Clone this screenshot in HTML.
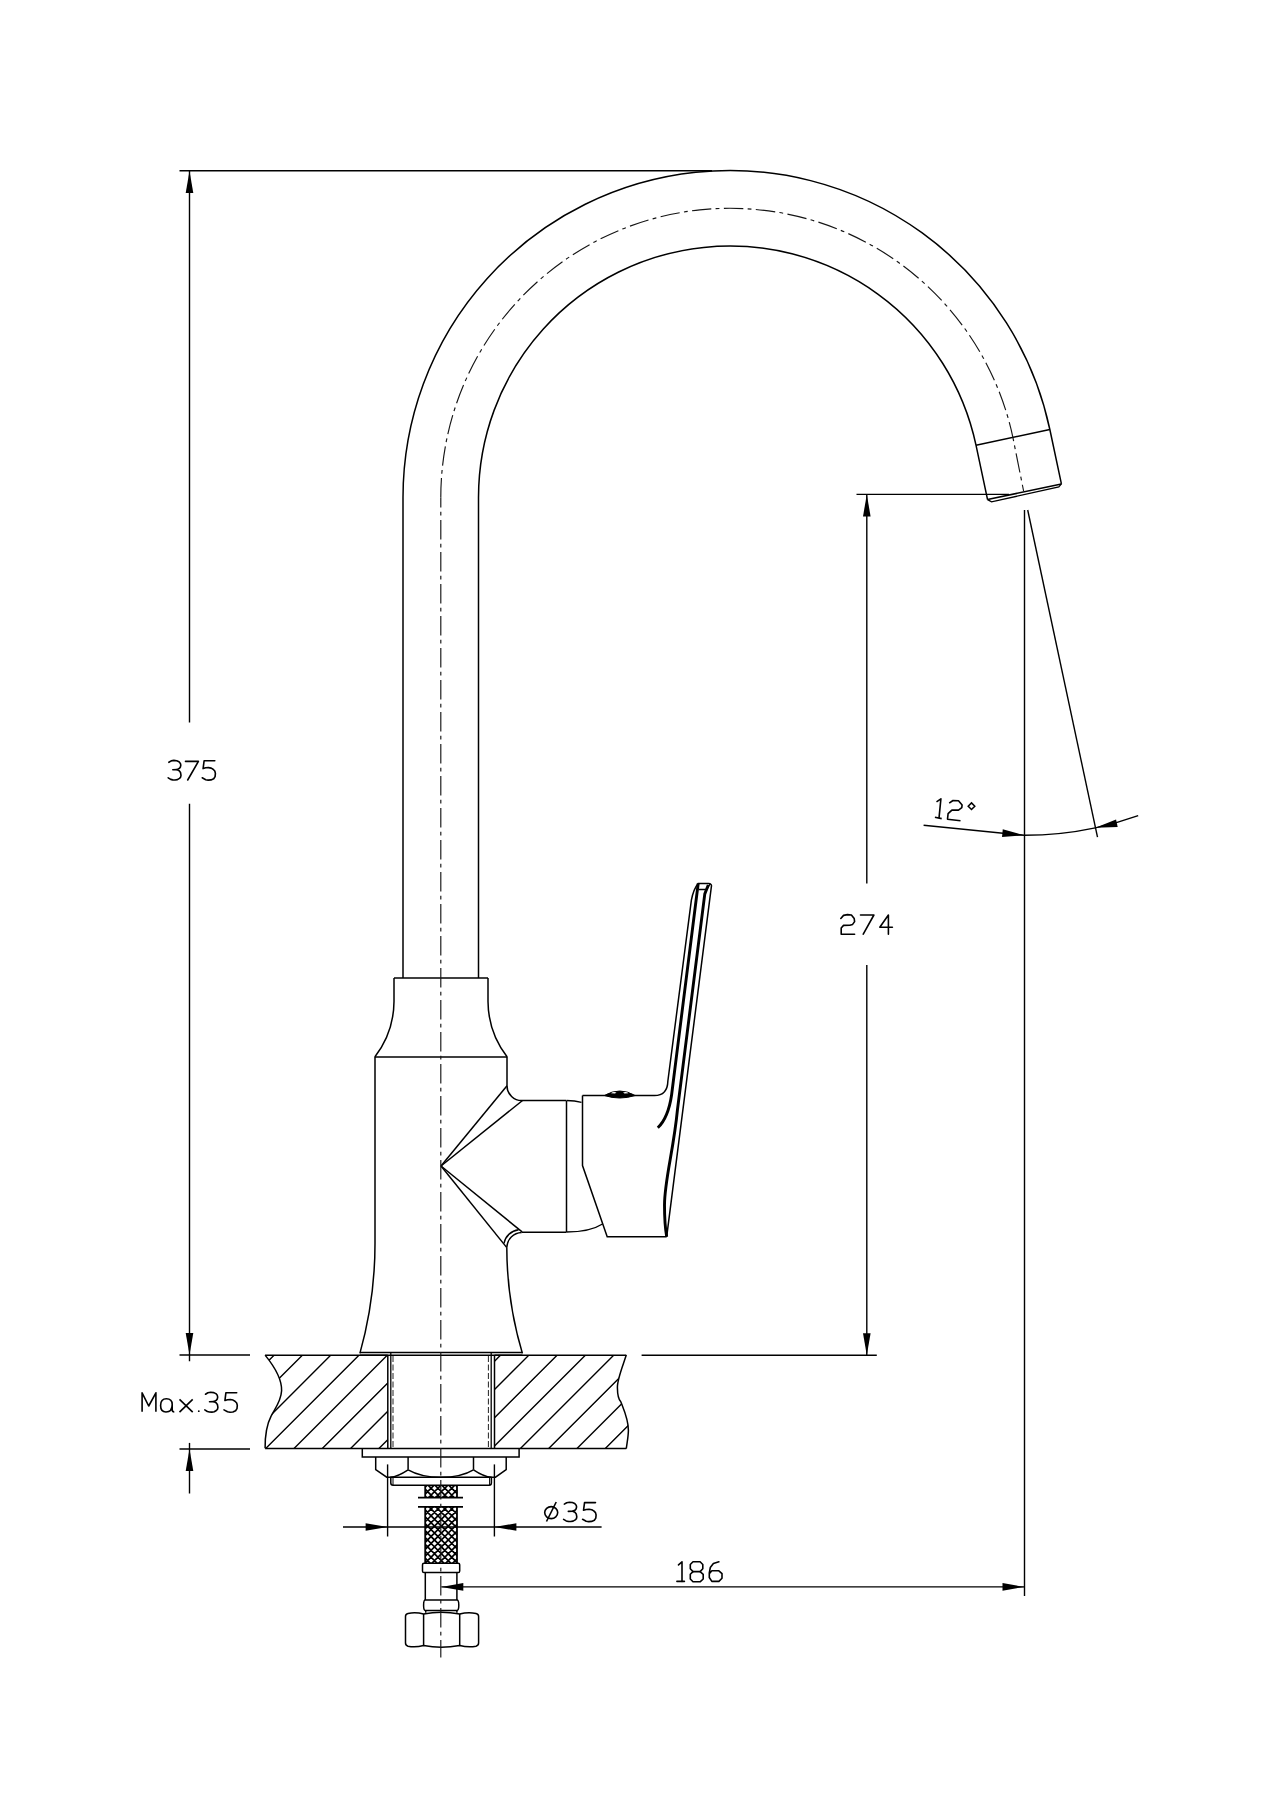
<!DOCTYPE html><html><head><meta charset="utf-8"><style>html,body{margin:0;padding:0;background:#fff;width:1272px;height:1800px;overflow:hidden}svg{display:block}</style></head><body><svg width="1272" height="1800" viewBox="0 0 1272 1800"><rect width="1272" height="1800" fill="#fff"/><g fill="none" stroke="#000" stroke-linecap="butt"><line x1="179.5" y1="170.7" x2="712" y2="170.7" stroke-width="1.4" />
<line x1="189.5" y1="171" x2="189.5" y2="722.4" stroke-width="1.4" />
<line x1="189.5" y1="803.7" x2="189.5" y2="1361.3" stroke-width="1.4" />
<polygon points="189.5,171 193.3,193 185.7,193" fill="#000" stroke="none"/>
<polygon points="189.5,1355 185.7,1333 193.3,1333" fill="#000" stroke="none"/>
<line x1="179.5" y1="1355" x2="250" y2="1355" stroke-width="1.4" />
<line x1="179.5" y1="1449" x2="250" y2="1449" stroke-width="1.4" />
<line x1="189.5" y1="1442.9" x2="189.5" y2="1493.5" stroke-width="1.4" />
<polygon points="189.5,1449 193.3,1471 185.7,1471" fill="#000" stroke="none"/>
<line x1="856.5" y1="494.4" x2="1009" y2="494.4" stroke-width="1.4" />
<line x1="866.8" y1="494.4" x2="866.8" y2="883.5" stroke-width="1.4" />
<line x1="866.8" y1="964.9" x2="866.8" y2="1355.2" stroke-width="1.4" />
<polygon points="866.8,494.4 870.6,516.4 863,516.4" fill="#000" stroke="none"/>
<polygon points="866.8,1355.2 863,1333.2 870.6,1333.2" fill="#000" stroke="none"/>
<line x1="641.6" y1="1355.2" x2="876.8" y2="1355.2" stroke-width="1.4" />
<line x1="1024.5" y1="510" x2="1024.5" y2="1596" stroke-width="1.4" />
<line x1="1027.7" y1="510" x2="1097.5" y2="837.2" stroke-width="1.4" />
<path d="M1024.3,835.3 A341.8,341.8 0 0 0 1095.36,827.83 A341.8,341.8 0 0 0 1138.2,815.6" stroke-width="1.4" />
<line x1="923.6" y1="825.3" x2="1024.3" y2="835.3" stroke-width="1.4" />
<polygon points="1024.3,835.3 1002.03,836.91 1002.78,829.34" fill="#000" stroke="none"/>
<polygon points="1095.36,827.83 1116.09,819.54 1117.67,826.97" fill="#000" stroke="none"/>
<line x1="441.3" y1="1586.9" x2="1024.5" y2="1586.9" stroke-width="1.4" />
<polygon points="441.3,1586.9 463.3,1583.1 463.3,1590.7" fill="#000" stroke="none"/>
<polygon points="1024.5,1586.9 1002.5,1590.7 1002.5,1583.1" fill="#000" stroke="none"/>
<line x1="387.6" y1="1464.4" x2="387.6" y2="1536.5" stroke-width="1.4" />
<line x1="494.4" y1="1464.4" x2="494.4" y2="1536.5" stroke-width="1.4" />
<line x1="343" y1="1527" x2="601.6" y2="1527" stroke-width="1.4" />
<polygon points="387.6,1527 365.6,1530.8 365.6,1523.2" fill="#000" stroke="none"/>
<polygon points="494.4,1527 516.4,1523.2 516.4,1530.8" fill="#000" stroke="none"/>
<path d="M403,978 V497.5 A327,327 0 0 1 1049.85,429.51 L1061.41,483.9" stroke-width="1.5" />
<path d="M478.5,978 V497.5 A251.5,251.5 0 0 1 976,445.21 L987.56,499.6" stroke-width="1.5" />
<line x1="976" y1="445.21" x2="1049.85" y2="429.51" stroke-width="1.5" />
<line x1="987.56" y1="499.6" x2="1061.41" y2="483.9" stroke-width="1.5" />
<polyline points="987.56,499.6 991.56,501.8 1058.81,487 1061.41,483.9" stroke-width="1.3" />
<path d="M394,978 H488" stroke-width="1.5" />
<path d="M394,978 V1001.5 A92,92 0 0 1 374.8,1057" stroke-width="1.5" />
<path d="M488,978 V1001.5 A92,92 0 0 0 507.2,1057" stroke-width="1.5" />
<path d="M374.8,1057 H507.2" stroke-width="1.5" />
<path d="M375,1057 V1243.3 A408,408 0 0 1 359.9,1353.4" stroke-width="1.5" />
<path d="M507,1057 V1085.7 A14.8,14.8 0 0 0 522.5,1100.5 H566" stroke-width="1.5" />
<path d="M506.8,1247.6 A372,372 0 0 0 522.4,1353.4" stroke-width="1.5" />
<path d="M359.9,1352.6 H522.4" stroke-width="1.5" />
<line x1="566.5" y1="1100.5" x2="566.5" y2="1232" stroke-width="1.5" />
<path d="M522,1232.3 H566.5" stroke-width="1.5" />
<path d="M566.5,1100.5 Q575,1100.6 581.5,1102.4" stroke-width="1.4" />
<path d="M566.5,1232 Q590,1232 602.5,1224" stroke-width="1.4" />
<line x1="441" y1="1166" x2="507" y2="1085.7" stroke-width="1.5" />
<line x1="441" y1="1166" x2="522.5" y2="1100.5" stroke-width="1.5" />
<line x1="441" y1="1166" x2="522.1" y2="1231.9" stroke-width="1.5" />
<line x1="441" y1="1166" x2="506.8" y2="1247.6" stroke-width="1.5" />
<path d="M504,1243.3 A17,17 0 0 1 518.6,1229.7" stroke-width="1.4" />
<path d="M506.8,1247.6 A15.5,15.5 0 0 1 521.7,1232.5" stroke-width="1.4" />
<path d="M582.5,1095.6 V1165.6 L607.2,1236.7 H666.7" stroke-width="1.5" />
<path d="M582.5,1095.6 H654.4 Q667.5,1095.6 667.87,1081 L691.37,900.2 Q693.5,889 698.2,883.5 H708.5 Q712,883.8 711.4,886.5 L666.7,1236.7" stroke-width="1.5" />
<path d="M698.2,883.5 L671.58,1095 C669.66,1108 666,1120 657.8,1127.8" stroke-width="2.9" />
<path d="M708.3,885 L704.8,893.9 L677.42,1110 C673.64,1150 664.5,1180 664.5,1205 C664.5,1220 665.5,1230 666.7,1236.7" stroke-width="2.9" />
<path d="M698.9,889.5 H706.7 L710,884" stroke-width="1.4" />
<path d="M604.4,1095.5 Q619.7,1086.5 635.1,1095.5 Q619.7,1100.5 604.4,1095.5 Z" fill="#000" stroke="#000" stroke-width="1"/>
<path d="M611,1093.2 Q613.5,1091.4 616.5,1092.6 L615,1093.6 Z" fill="#fff" stroke="none"/>
<path d="M623,1092.6 Q626,1091.4 628.5,1093.2 L624.5,1093.6 Z" fill="#fff" stroke="none"/>
<path d="M265.1,1355.2 H387.8" stroke-width="1.5" />
<path d="M494.5,1355.2 H626.3" stroke-width="1.5" />
<path d="M359.9,1355.2 H522.4" stroke-width="1.5" />
<path d="M265.1,1448.6 H626.3" stroke-width="1.5" />
<path d="M265.1,1355.1 C274,1366 282,1380 281.6,1390.8 C281,1402 274,1410 271.2,1415.9 C267,1424 265,1436 265.1,1448.3" stroke-width="1.5" />
<path d="M626.3,1355.1 C622,1368 617,1380 617.4,1387.8 C617.5,1396 619,1400 620.8,1401.8 C624,1410 628.6,1420 628.4,1430.6 C628.3,1437 627,1443 626.3,1448.6" stroke-width="1.5" />
<clipPath id="cl"><path d="M265.1,1355.1 C274,1366 282,1380 281.6,1390.8 C281,1402 274,1410 271.2,1415.9 C267,1424 265,1436 265.1,1448.3 L387.8,1448.6 L387.8,1355.1 Z"/></clipPath>
<clipPath id="cr"><path d="M626.3,1355.1 C622,1368 617,1380 617.4,1387.8 C617.5,1396 619,1400 620.8,1401.8 C624,1410 628.6,1420 628.4,1430.6 C628.3,1437 627,1443 626.3,1448.6 L494.5,1448.6 L494.5,1355.1 Z"/></clipPath>
<path clip-path="url(#cl)" d="M84.4,1460 L204.4,1340 M112.7,1460 L232.7,1340 M141,1460 L261,1340 M169.3,1460 L289.3,1340 M197.6,1460 L317.6,1340 M225.9,1460 L345.9,1340 M254.2,1460 L374.2,1340 M282.5,1460 L402.5,1340 M310.8,1460 L430.8,1340 M339.1,1460 L459.1,1340 M367.4,1460 L487.4,1340 M395.7,1460 L515.7,1340 M424,1460 L544,1340 M452.3,1460 L572.3,1340 M480.6,1460 L600.6,1340 M508.9,1460 L628.9,1340 M537.2,1460 L657.2,1340 M565.5,1460 L685.5,1340 M593.8,1460 L713.8,1340 M622.1,1460 L742.1,1340 M650.4,1460 L770.4,1340 M678.7,1460 L798.7,1340" stroke-width="1.4"/>
<path clip-path="url(#cr)" d="M84.4,1460 L204.4,1340 M112.7,1460 L232.7,1340 M141,1460 L261,1340 M169.3,1460 L289.3,1340 M197.6,1460 L317.6,1340 M225.9,1460 L345.9,1340 M254.2,1460 L374.2,1340 M282.5,1460 L402.5,1340 M310.8,1460 L430.8,1340 M339.1,1460 L459.1,1340 M367.4,1460 L487.4,1340 M395.7,1460 L515.7,1340 M424,1460 L544,1340 M452.3,1460 L572.3,1340 M480.6,1460 L600.6,1340 M508.9,1460 L628.9,1340 M537.2,1460 L657.2,1340 M565.5,1460 L685.5,1340 M593.8,1460 L713.8,1340 M622.1,1460 L742.1,1340 M650.4,1460 L770.4,1340 M678.7,1460 L798.7,1340" stroke-width="1.4"/>
<line x1="387.8" y1="1355.2" x2="387.8" y2="1448.6" stroke-width="1.5" />
<line x1="494.5" y1="1355.2" x2="494.5" y2="1448.6" stroke-width="1.5" />
<line x1="390.8" y1="1352.6" x2="390.8" y2="1449" stroke-width="1.3" />
<line x1="491.2" y1="1352.6" x2="491.2" y2="1449" stroke-width="1.3" />
<line x1="393" y1="1356" x2="393" y2="1449" stroke-width="1" stroke-dasharray="6 2.5" stroke="#222"/>
<line x1="488.4" y1="1356" x2="488.4" y2="1449" stroke-width="1" stroke-dasharray="6 2.5" stroke="#222"/>
<path d="M362.3,1449 V1457 H519.1 V1449" stroke-width="1.5" />
<path d="M375.7,1457 V1469.5 L386.7,1477.2 H495.5 L506.2,1469.5 V1457" stroke-width="1.5" />
<line x1="408.1" y1="1457" x2="408.1" y2="1469.8" stroke-width="1.5" />
<line x1="473.5" y1="1457" x2="473.5" y2="1469.8" stroke-width="1.5" />
<path d="M408.1,1469.8 C418,1475.5 428,1477.2 441,1477.3 C454,1477.2 464,1475.5 473.5,1469.8" stroke-width="1.4" />
<path d="M408.1,1469.8 C401,1474.5 396,1476.8 390.2,1477.3" stroke-width="1.4" />
<path d="M473.5,1469.8 C480.5,1474.5 485.5,1476.8 491.7,1477.3" stroke-width="1.4" />
<path d="M390.8,1477 V1483 Q390.8,1485.2 393,1485.2 H489.2 Q491.4,1485.2 491.4,1483 V1477" stroke-width="1.5" />
<line x1="393" y1="1477" x2="393" y2="1485" stroke-width="1" />
<line x1="489.6" y1="1477" x2="489.6" y2="1485" stroke-width="1" />
<clipPath id="cb"><rect x="425.2" y="1485.2" width="31.8" height="12.5"/><rect x="425.2" y="1506.8" width="31.8" height="56.4"/></clipPath>
<path clip-path="url(#cb)" d="M291.75,1480 L381.75,1570 M308.15,1480 L218.15,1570 M298.65,1480 L388.65,1570 M315.05,1480 L225.05,1570 M305.55,1480 L395.55,1570 M321.95,1480 L231.95,1570 M312.45,1480 L402.45,1570 M328.85,1480 L238.85,1570 M319.35,1480 L409.35,1570 M335.75,1480 L245.75,1570 M326.25,1480 L416.25,1570 M342.65,1480 L252.65,1570 M333.15,1480 L423.15,1570 M349.55,1480 L259.55,1570 M340.05,1480 L430.05,1570 M356.45,1480 L266.45,1570 M346.95,1480 L436.95,1570 M363.35,1480 L273.35,1570 M353.85,1480 L443.85,1570 M370.25,1480 L280.25,1570 M360.75,1480 L450.75,1570 M377.15,1480 L287.15,1570 M367.65,1480 L457.65,1570 M384.05,1480 L294.05,1570 M374.55,1480 L464.55,1570 M390.95,1480 L300.95,1570 M381.45,1480 L471.45,1570 M397.85,1480 L307.85,1570 M388.35,1480 L478.35,1570 M404.75,1480 L314.75,1570 M395.25,1480 L485.25,1570 M411.65,1480 L321.65,1570 M402.15,1480 L492.15,1570 M418.55,1480 L328.55,1570 M409.05,1480 L499.05,1570 M425.45,1480 L335.45,1570 M415.95,1480 L505.95,1570 M432.35,1480 L342.35,1570 M422.85,1480 L512.85,1570 M439.25,1480 L349.25,1570 M429.75,1480 L519.75,1570 M446.15,1480 L356.15,1570 M436.65,1480 L526.65,1570 M453.05,1480 L363.05,1570 M443.55,1480 L533.55,1570 M459.95,1480 L369.95,1570 M450.45,1480 L540.45,1570 M466.85,1480 L376.85,1570 M457.35,1480 L547.35,1570 M473.75,1480 L383.75,1570 M464.25,1480 L554.25,1570 M480.65,1480 L390.65,1570 M471.15,1480 L561.15,1570 M487.55,1480 L397.55,1570 M478.05,1480 L568.05,1570 M494.45,1480 L404.45,1570 M484.95,1480 L574.95,1570 M501.35,1480 L411.35,1570 M491.85,1480 L581.85,1570 M508.25,1480 L418.25,1570 M498.75,1480 L588.75,1570 M515.15,1480 L425.15,1570 M505.65,1480 L595.65,1570 M522.05,1480 L432.05,1570 M512.55,1480 L602.55,1570 M528.95,1480 L438.95,1570 M519.45,1480 L609.45,1570 M535.85,1480 L445.85,1570 M526.35,1480 L616.35,1570 M542.75,1480 L452.75,1570 M533.25,1480 L623.25,1570 M549.65,1480 L459.65,1570 M540.15,1480 L630.15,1570 M556.55,1480 L466.55,1570 M547.05,1480 L637.05,1570 M563.45,1480 L473.45,1570 M553.95,1480 L643.95,1570 M570.35,1480 L480.35,1570 M560.85,1480 L650.85,1570 M577.25,1480 L487.25,1570" stroke-width="1.7"/>
<line x1="425.2" y1="1485.2" x2="425.2" y2="1497.7" stroke-width="1.8" />
<line x1="457" y1="1485.2" x2="457" y2="1497.7" stroke-width="1.8" />
<line x1="425.2" y1="1506.8" x2="425.2" y2="1563.2" stroke-width="1.8" />
<line x1="457" y1="1506.8" x2="457" y2="1563.2" stroke-width="1.8" />
<line x1="418" y1="1497.7" x2="463" y2="1497.7" stroke-width="1.8" />
<line x1="418" y1="1506.8" x2="463" y2="1506.8" stroke-width="1.8" />
<path d="M424,1563.2 H458.2 Q459.7,1563.2 459.7,1564.7 V1571 Q459.7,1572.6 458.2,1572.6 H424 Q422.5,1572.6 422.5,1571 V1564.7 Q422.5,1563.2 424,1563.2 Z" stroke-width="1.5" />
<path d="M425.3,1572.6 V1600 M456.9,1572.6 V1600" stroke-width="1.5" />
<path d="M425.3,1600 H456.9 Q458.8,1600 458.8,1605.2 Q458.8,1610.4 456.9,1610.4 H425.3 Q423.6,1610.4 423.6,1605.2 Q423.6,1600 425.3,1600 Z" stroke-width="1.5" />
<path d="M425.7,1610.4 V1612.7 M456.9,1610.4 V1612.7" stroke-width="1.5" />
<path d="M408,1613.5 Q415.5,1612 423.6,1614 Q441,1610.5 459.7,1614 Q468,1612 476,1613.5 Q478.6,1614 478.6,1616.5 V1643 Q478.6,1645.5 476,1646.2 Q468,1647.5 459.7,1645.5 Q441,1649 423.6,1645.5 Q415.5,1647.5 408,1646.2 Q405.5,1645.5 405.5,1643 V1616.5 Q405.5,1614 408,1613.5 Z" stroke-width="1.5" />
<line x1="423.6" y1="1614" x2="423.6" y2="1645.5" stroke-width="1.5" />
<line x1="459.7" y1="1614" x2="459.7" y2="1645.5" stroke-width="1.5" />
<line x1="440.8" y1="497.5" x2="440.8" y2="1657.5" stroke-width="1.15" stroke-dasharray="19.5 4.3 3.8 4.4" stroke="#151515" stroke-dashoffset="9.5"/>
<path d="M440.8,497.5 A289.2,289.2 0 0 1 1012.88,437.37 L1023.6,491" stroke-width="1.15" stroke-dasharray="19.5 4.3 3.8 4.4" stroke="#151515" fill="none"/>
<polyline points="840.8,918.5 843.55,915.4 847.5,914.6 851.4,915 854.2,918.5 854.6,921.6 852.6,924.4 849.8,925.2 843.55,925.4 841.2,928 841.2,934.2 854.6,934.2" stroke-width="1.6" stroke-linejoin="round" stroke-linecap="round"/>
<polyline points="860.5,915 873.9,915 863.25,934.2" stroke-width="1.6" stroke-linejoin="round" stroke-linecap="round"/>
<polyline points="888.4,934.2 888.4,915 879.8,927.2 892.4,927.2" stroke-width="1.6" stroke-linejoin="round" stroke-linecap="round"/>
<polyline points="678.5,1564.9 682,1561.8 682,1581.4" stroke-width="1.6" stroke-linejoin="round" stroke-linecap="round"/>
<polyline points="676.9,1581.4 684.4,1581.4" stroke-width="1.6" stroke-linejoin="round" stroke-linecap="round"/>
<polyline points="693,1561.8 700.1,1561.8 702.8,1564.5 702.8,1568.8 700.1,1571.6 693,1571.6 690.3,1568.8 690.3,1564.5 693,1561.8" stroke-width="1.6" stroke-linejoin="round" stroke-linecap="round"/>
<polyline points="693,1571.6 690.3,1574.3 690.3,1579 693,1581.8 700.1,1581.8 703.2,1579 703.2,1574.3 700.1,1571.6" stroke-width="1.6" stroke-linejoin="round" stroke-linecap="round"/>
<polyline points="718.9,1561.8 713.4,1563.4 710.3,1567.6 709.3,1572.8 709.3,1577.5 711.85,1581.4 718.9,1581.4 722,1578.3 722,1573.6 718.9,1570.8 711.85,1570.8 709.3,1573.6" stroke-width="1.6" stroke-linejoin="round" stroke-linecap="round"/>
<polyline points="168.9,762.3 171.2,760.9 173.9,760.4 176.7,760.7 179,761.7 180.4,763.4 180.8,765.2 180.4,767 179.5,768.3 177,769.6 172.8,769.7" stroke-width="1.6" stroke-linejoin="round" stroke-linecap="round"/>
<polyline points="177,769.6 179.2,770.7 180.5,772.4 181,775.3 180.6,777.2 179.5,778.4 177.4,779.6 175.1,780 172.7,779.9 170.7,779.4 168.2,777.8" stroke-width="1.6" stroke-linejoin="round" stroke-linecap="round"/>
<polyline points="185.5,761.4 198.4,761.4 187.7,780" stroke-width="1.6" stroke-linejoin="round" stroke-linecap="round"/>
<polyline points="214.8,760.8 204.1,760.8 203.1,768.6 205.7,767.8 208.5,767.6 211.2,768.1 213.1,769.2 214.8,771 215.4,773.4 215.1,776.6 213.7,778.7 211,779.9 208.2,780.1 205.7,779.7 202.2,777.8" stroke-width="1.6" stroke-linejoin="round" stroke-linecap="round"/>
<polyline points="564.32,1504.07 566.69,1502.69 569.48,1502.2 572.36,1502.5 574.73,1503.48 576.18,1505.15 576.59,1506.93 576.18,1508.7 575.25,1509.98 572.67,1511.26 568.34,1511.36" stroke-width="1.6" stroke-linejoin="round" stroke-linecap="round"/>
<polyline points="572.67,1511.26 574.94,1512.34 576.28,1514.02 576.8,1516.87 576.38,1518.74 575.25,1519.92 573.09,1521.11 570.71,1521.5 568.24,1521.4 566.18,1520.91 563.6,1519.33" stroke-width="1.6" stroke-linejoin="round" stroke-linecap="round"/>
<polyline points="595.49,1502.59 584.54,1502.59 583.52,1510.27 586.18,1509.49 589.04,1509.29 591.8,1509.78 593.75,1510.87 595.49,1512.64 596.1,1515 595.79,1518.15 594.36,1520.22 591.6,1521.4 588.74,1521.6 586.18,1521.2 582.6,1519.33" stroke-width="1.6" stroke-linejoin="round" stroke-linecap="round"/>
<ellipse cx="551.2" cy="1512.6" rx="6.5" ry="6.0" stroke-width="1.6"/>
<line x1="546.5" y1="1521.5" x2="556.2" y2="1502" stroke-width="1.6" />
<polyline points="142.1,1411.8 142.1,1392.8 148.7,1406 155.9,1392.8 155.9,1411.8" stroke-width="1.6" stroke-linejoin="round"/>
<path d="M172.2,1404.5 Q172.2,1398.8 166.4,1398.8 Q160.6,1398.8 160.6,1405.5 Q160.6,1412 166,1412 Q172.2,1412 172.2,1404.5 V1409.5 Q172.2,1412 174.3,1412" stroke-width="1.6"/>
<line x1="179.5" y1="1399.4" x2="192.7" y2="1412.1" stroke-width="1.6" />
<line x1="192.7" y1="1399.4" x2="179.5" y2="1412.1" stroke-width="1.6" />
<circle cx="198.8" cy="1411.2" r="0.9" fill="#000" stroke="none"/>
<polyline points="205.52,1394.22 207.87,1392.81 210.63,1392.3 213.5,1392.6 215.85,1393.61 217.28,1395.33 217.69,1397.15 217.28,1398.97 216.36,1400.28 213.8,1401.59 209.51,1401.69" stroke-width="1.6" stroke-linejoin="round" stroke-linecap="round"/>
<polyline points="213.8,1401.59 216.06,1402.71 217.39,1404.42 217.9,1407.35 217.49,1409.27 216.36,1410.48 214.21,1411.7 211.86,1412.1 209.4,1412 207.36,1411.49 204.8,1409.88" stroke-width="1.6" stroke-linejoin="round" stroke-linecap="round"/>
<polyline points="236.7,1392.7 225.91,1392.7 224.91,1400.58 227.53,1399.78 230.35,1399.57 233.07,1400.08 234.98,1401.19 236.7,1403.01 237.3,1405.43 237,1408.67 235.59,1410.79 232.87,1412 230.05,1412.2 227.53,1411.8 224,1409.88" stroke-width="1.6" stroke-linejoin="round" stroke-linecap="round"/>
<polyline points="936.5,801.8 940.9,798.8 939,818.1" stroke-width="1.6" stroke-linejoin="round"/>
<line x1="934.9" y1="817.2" x2="941.7" y2="818.6" stroke-width="1.6" />
<polyline points="949.2,803.2 953,800.5 958.5,800.7 962.1,804.9 961.8,807.6 958.5,810.1 951.9,810.1 948.1,813.7 947.5,819.2 960.5,820.8" stroke-width="1.6" stroke-linejoin="round"/>
<polygon points="971.5,802.9 974.8,806.2 971.5,809.5 968.2,806.2" stroke-width="1.5"/></g></svg></body></html>
